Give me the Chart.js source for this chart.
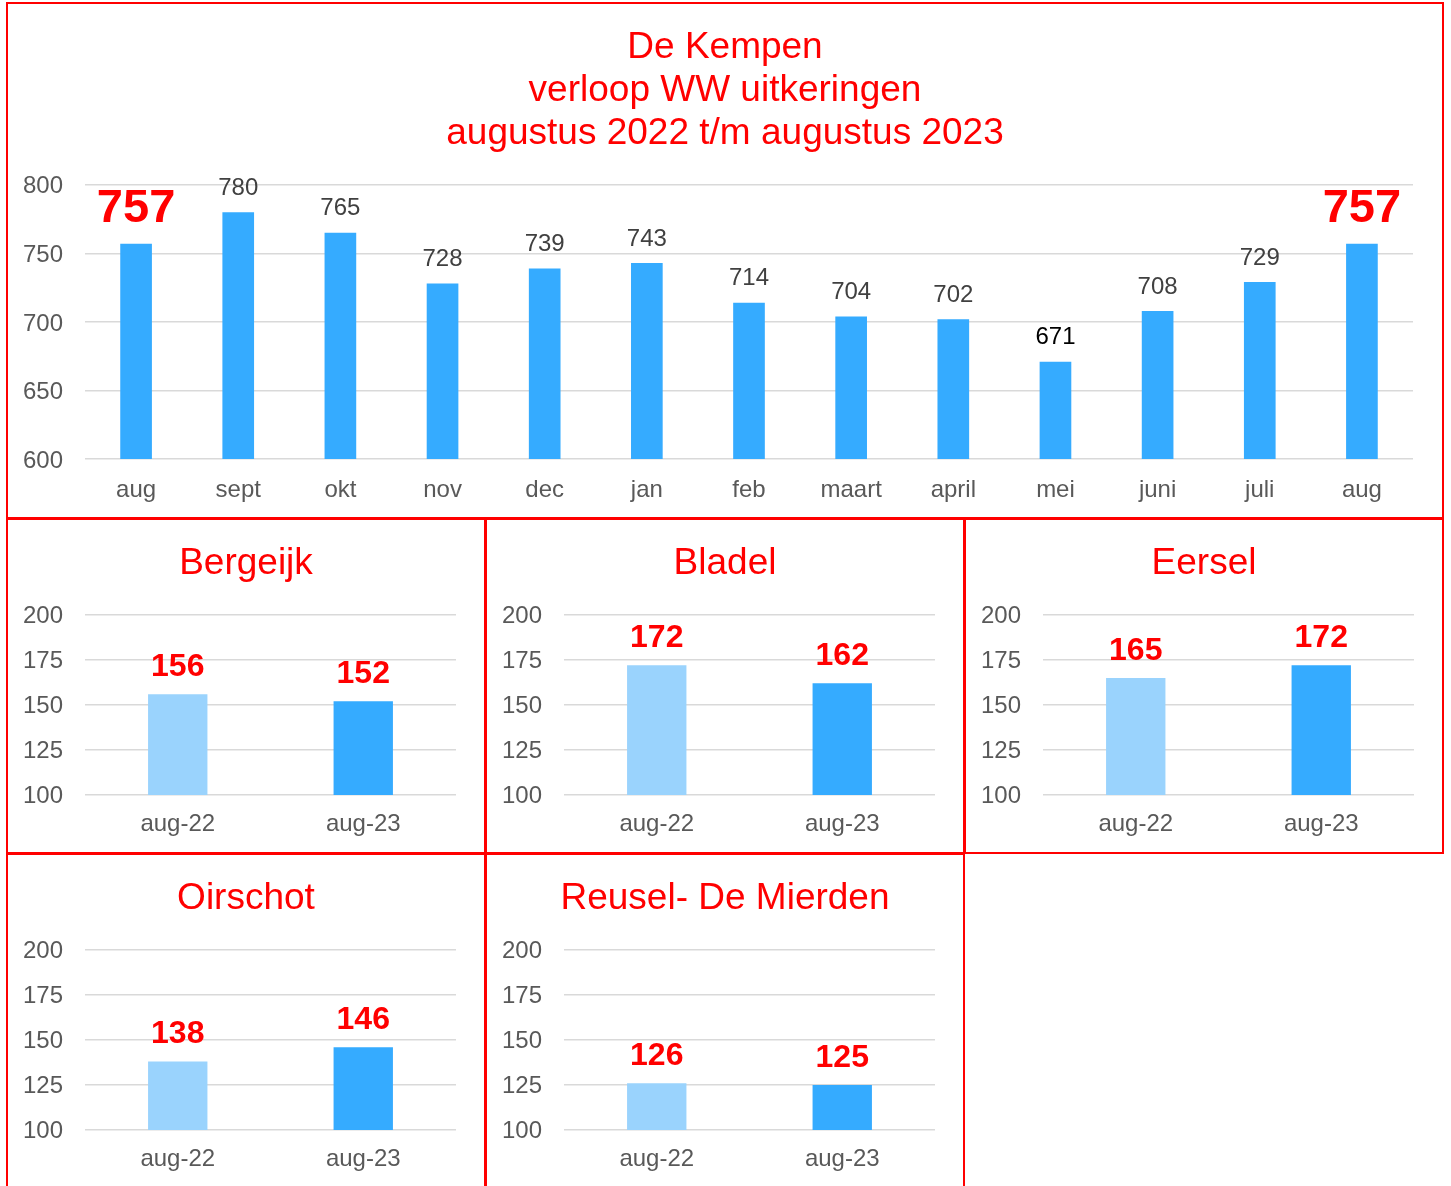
<!DOCTYPE html>
<html lang="nl">
<head>
    <meta charset="UTF-8">
    <title>De Kempen - verloop WW uitkeringen</title>
    <script src="https://cdn.jsdelivr.net/npm/chart.js"></script>
    <style>
        body {
            margin: 0;
            padding: 0;
            background: #fff;
            width: 1451px;
            height: 1186px;
            overflow: hidden;
            position: relative;
            font-family: 'Liberation Sans', Arial, sans-serif;
        }
        .panel {
            position: absolute;
            box-sizing: border-box;
            border: 2px solid #ff0000;
        }
        .panel canvas {
            display: block;
        }
    </style>
</head>
<body>
    <div class="panel" style="left:6px; top:2px; width:1438px; height:517px;">
        <canvas id="mainChart" width="1434" height="513"></canvas>
    </div>
    <div class="panel" style="left:6px; top:518px; width:480px; height:336px;">
        <canvas id="bergeijk" width="476" height="332"></canvas>
    </div>
    <div class="panel" style="left:485px; top:518px; width:480px; height:336px;">
        <canvas id="bladel" width="476" height="332"></canvas>
    </div>
    <div class="panel" style="left:964px; top:518px; width:480px; height:336px;">
        <canvas id="eersel" width="476" height="332"></canvas>
    </div>
    <div class="panel" style="left:6px; top:853px; width:480px; height:340px;">
        <canvas id="oirschot" width="476" height="332"></canvas>
    </div>
    <div class="panel" style="left:485px; top:853px; width:480px; height:340px;">
        <canvas id="reusel" width="476" height="332"></canvas>
    </div>

    <script>
        // Data
        const months = ['aug', 'sept', 'okt', 'nov', 'dec', 'jan', 'feb', 'maart', 'april', 'mei', 'juni', 'juli', 'aug'];
        const kempenValues = [757, 780, 765, 728, 739, 743, 714, 704, 702, 671, 708, 729, 757];
        const mainTicks = [600, 650, 700, 750, 800];

        const periods = ['aug-22', 'aug-23'];
        const bergeijkValues = [156, 152];
        const bladelValues = [172, 162];
        const eerselValues = [165, 172];
        const oirschotValues = [138, 146];
        const reuselValues = [126, 125];
        const smallTicks = [100, 125, 150, 175, 200];

        const FONT = "'Liberation Sans', Arial, sans-serif";
        const BLUE = '#35abff';
        const LIGHT_BLUE = '#9ad3fd';
        const GRID = '#d9d9d9';
        const TICK_COLOR = '#595959';

        // simple value labels above the bars
        const barLabels = {
            id: 'barLabels',
            afterDatasetsDraw(chart, args, opts) {
                const ctx = chart.ctx;
                const meta = chart.getDatasetMeta(0);
                const values = chart.data.datasets[0].data;
                ctx.save();
                ctx.textAlign = 'center';
                ctx.textBaseline = 'middle';
                meta.data.forEach((bar, i) => {
                    const big = opts.highlight.includes(i);
                    const st = big ? opts.bigStyle : opts.style;
                    ctx.font = st.font;
                    ctx.fillStyle = (opts.colors && opts.colors[i]) || st.color;
                    ctx.fillText(values[i], bar.x, bar.y - st.offset);
                });
                ctx.restore();
            }
        };

        Chart.register(barLabels);

        // invisible right axis, keeps the plot off the right edge while the title stays centred
        function spacer(w) {
            return {
                type: 'linear',
                position: 'right',
                afterFit: s => { s.width = w; },
                grid: { display: false },
                border: { display: false },
                ticks: { display: false }
            };
        }

        new Chart(document.getElementById('mainChart'), {
            type: 'bar',
            data: {
                labels: months,
                datasets: [{
                    data: kempenValues,
                    backgroundColor: BLUE,
                    barPercentage: 0.31,
                    categoryPercentage: 1
                }]
            },
            options: {
                responsive: false,
                animation: false,
                layout: { padding: 0 },
                plugins: {
                    legend: { display: false },
                    tooltip: { enabled: false },
                    title: {
                        display: true,
                        text: ['De Kempen', 'verloop WW uitkeringen', 'augustus 2022 t/m augustus 2023'],
                        color: '#ff0000',
                        font: { family: FONT, size: 37, weight: 'normal', lineHeight: 1.16 },
                        padding: { top: 22, bottom: 30 }
                    },
                    barLabels: {
                        highlight: [0, 12],
                        colors: { 9: '#000000' },
                        style: { font: '24px ' + FONT, color: '#404040', offset: 24 },
                        bigStyle: { font: 'bold 47px ' + FONT, color: '#ff0000', offset: 35 }
                    }
                },
                scales: {
                    x: {
                        afterFit: s => { s.height = 58; },
                        grid: { display: false, drawTicks: false },
                        border: { display: false },
                        ticks: { color: TICK_COLOR, font: { family: FONT, size: 24 }, padding: 17 }
                    },
                    y: {
                        min: mainTicks[0],
                        max: mainTicks[mainTicks.length - 1],
                        afterBuildTicks: s => { s.ticks = mainTicks.map(v => ({ value: v })); },
                        afterFit: s => { s.width = 77; },
                        grid: { color: GRID, lineWidth: 1.5, drawTicks: false },
                        border: { display: false },
                        ticks: { color: TICK_COLOR, font: { family: FONT, size: 24 }, padding: 22, labelOffset: 2 }
                    },
                    yPad: spacer(29)
                }
            }
        });

        function smallChart(id, title, values) {
            return new Chart(document.getElementById(id), {
                type: 'bar',
                data: {
                    labels: periods,
                    datasets: [{
                        data: values,
                        backgroundColor: [LIGHT_BLUE, BLUE],
                        barPercentage: 0.32,
                        categoryPercentage: 1
                    }]
                },
                options: {
                    responsive: false,
                    animation: false,
                    layout: { padding: 0 },
                    plugins: {
                        legend: { display: false },
                        tooltip: { enabled: false },
                        title: {
                            display: true,
                            text: title,
                            color: '#ff0000',
                            font: { family: FONT, size: 37, weight: 'normal', lineHeight: 1.16 },
                            padding: { top: 22, bottom: 30 }
                        },
                        barLabels: {
                            highlight: [],
                            style: { font: 'bold 32px ' + FONT, color: '#ff0000', offset: 27 },
                            bigStyle: { font: 'bold 32px ' + FONT, color: '#ff0000', offset: 27 }
                        }
                    },
                    scales: {
                        x: {
                            afterFit: s => { s.height = 57; },
                            grid: { display: false, drawTicks: false },
                            border: { display: false },
                            ticks: { color: TICK_COLOR, font: { family: FONT, size: 24 }, padding: 15 }
                        },
                        y: {
                            min: smallTicks[0],
                            max: smallTicks[smallTicks.length - 1],
                            afterBuildTicks: s => { s.ticks = smallTicks.map(v => ({ value: v })); },
                            afterFit: s => { s.width = 77; },
                            grid: { color: GRID, lineWidth: 1.5, drawTicks: false },
                            border: { display: false },
                            ticks: { color: TICK_COLOR, font: { family: FONT, size: 24 }, padding: 22, labelOffset: 1 }
                        },
                        yPad: spacer(28)
                    }
                }
            });
        }

        smallChart('bergeijk', 'Bergeijk', bergeijkValues);
        smallChart('bladel', 'Bladel', bladelValues);
        smallChart('eersel', 'Eersel', eerselValues);
        smallChart('oirschot', 'Oirschot', oirschotValues);
        smallChart('reusel', 'Reusel- De Mierden', reuselValues);
    </script>
</body>
</html>
